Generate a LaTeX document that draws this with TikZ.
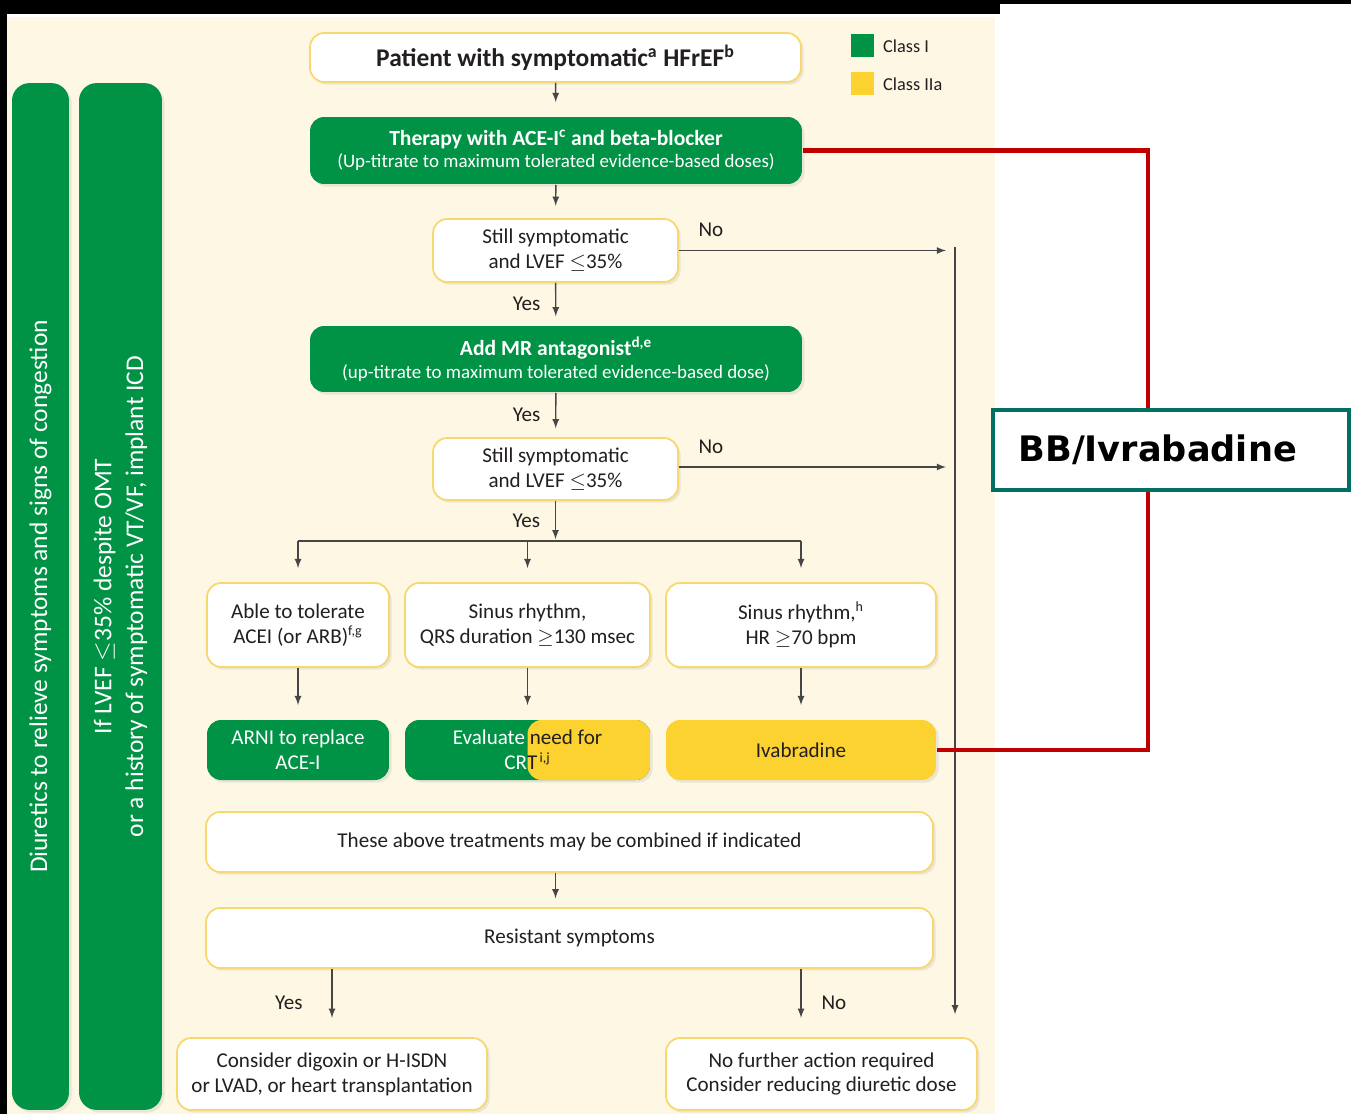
\documentclass[tikz,border=0pt]{standalone}
\usepackage{fontspec}
\setmainfont{Carlito}
\newfontfamily\bbfont{DejaVu Sans}
\usetikzlibrary{shadows}

\definecolor{cream}{RGB}{253,247,228}
\definecolor{classI}{RGB}{0,146,69}
\definecolor{classIIa}{RGB}{252,210,48}
\definecolor{boxline}{RGB}{247,216,110}
\definecolor{flowline}{RGB}{70,70,70}
\definecolor{txt}{RGB}{35,31,32}
\definecolor{redline}{RGB}{192,0,0}
\definecolor{bbframe}{RGB}{0,112,100}

\tikzset{
  box/.style={draw=boxline, line width=1pt, fill=white, rounded corners=8pt,
    align=center, text=txt, inner sep=0pt,
    font=\fontsize{12}{14.2}\selectfont,
    drop shadow={opacity=0.15, shadow xshift=1.5pt, shadow yshift=-1.5pt}},
  gbox/.style={box, draw=none, fill=classI, text=white},
  ybox/.style={box, draw=none, fill=classIIa},
  bar/.style={fill=classI, rounded corners=10pt, text=white, align=center,
    inner sep=0pt, font=\fontsize{14.5}{18}\selectfont,
    drop shadow={opacity=0.15, shadow xshift=1.5pt, shadow yshift=-1.5pt}},
  flow/.style={draw=flowline, line width=0.8pt},
  arr/.style={flow, -latex, shorten >=#1},
  arr/.default=5pt,
  lbl/.style={text=txt, font=\fontsize{12}{14}\selectfont},
  key/.style={minimum width=0.46cm, minimum height=0.46cm, inner sep=0pt},
  keytext/.style={text=txt, font=\fontsize{10.4}{12}\selectfont, anchor=west}
}

\begin{document}
\begin{tikzpicture}[x=0.02cm, y=-0.02cm]
  \useasboundingbox (0,0) rectangle (1351,1114);

  % frame and background
  \fill[black] (0,0) rectangle (1000,14);
  \fill[black] (0,0) rectangle (1351,4);
  \fill[black] (0,0) rectangle (7,1114);
  \fill[cream] (7,17) rectangle (995,1114);

  % side bars
  \node[bar, rotate=90, minimum width=20.54cm, minimum height=1.14cm] (diuretics) at (40.5,596.5)
    {Diuretics to relieve symptoms and signs of congestion};
  \node[bar, rotate=90, minimum width=20.54cm, minimum height=1.66cm] (icd) at (120.5,596.5)
    {If LVEF $\leq$35\% despite OMT\\or a history of symptomatic VT/VF, implant ICD};

  % legend
  \node[key, fill=classI] (keyI) at (862.5,45.5) {};
  \node[keytext] (keyItext) at (877,46) {Class I};
  \node[key, fill=classIIa] (keyIIa) at (862.5,83.5) {};
  \node[keytext] (keyIIatext) at (877,84) {Class IIa};

  % main column
  \node[box, minimum width=9.82cm, minimum height=0.98cm, font=\fontsize{14.5}{16}\selectfont\bfseries] (patient) at (555.5,57.5)
    {Patient with symptomatic\textsuperscript{a} HFrEF\textsuperscript{b}};
  \node[gbox, minimum width=9.84cm, minimum height=1.34cm, font=\fontsize{10.8}{13}\selectfont] (therapy) at (556,150.5)
    {{\fontsize{12.3}{13}\selectfont\bfseries Therapy with ACE-I\textsuperscript{c} and beta-blocker}\\(Up-titrate to maximum tolerated evidence-based doses)};
  \node[box, minimum width=4.9cm, minimum height=1.26cm] (still1) at (555.5,250.5)
    {Still symptomatic\\and LVEF $\leq$35\%};
  \node[gbox, minimum width=9.84cm, minimum height=1.32cm, font=\fontsize{10.8}{13}\selectfont] (mra) at (556,359)
    {{\fontsize{12.3}{13}\selectfont\bfseries Add MR antagonist\textsuperscript{d,e}}\\(up-titrate to maximum tolerated evidence-based dose)};
  \node[box, minimum width=4.9cm, minimum height=1.24cm] (still2) at (555.5,469)
    {Still symptomatic\\and LVEF $\leq$35\%};

  % three branches
  \node[box, minimum width=3.64cm, minimum height=1.68cm] (able) at (298,625)
    {Able to tolerate\\ACEI (or ARB)\textsuperscript{f,g}};
  \node[box, minimum width=4.9cm, minimum height=1.68cm] (sinusqrs) at (527.5,625)
    {Sinus rhythm,\\QRS duration $\geq$130 msec};
  \node[box, minimum width=5.4cm, minimum height=1.68cm] (sinushr) at (801,625)
    {Sinus rhythm,\textsuperscript{h}\\HR $\geq$70 bpm};
  \node[gbox, minimum width=3.64cm, minimum height=1.2cm] (arni) at (298,750)
    {ARNI to replace\\ACE-I};
  \node[gbox, minimum width=4.9cm, minimum height=1.2cm, text=txt,
    path picture={\fill[classIIa] (path picture bounding box.north) rectangle (path picture bounding box.south east);}] (crt) at (527.5,750)
    {{\color{white}Evaluate} need for\\{\color{white}CR}T\textsuperscript{\,i,j}};
  \node[ybox, minimum width=5.4cm, minimum height=1.2cm] (ivab) at (801,750) {Ivabradine};

  % bottom part
  \node[box, minimum width=14.54cm, minimum height=1.2cm] (combined) at (569.5,842)
    {These above treatments may be combined if indicated};
  \node[box, minimum width=14.54cm, minimum height=1.2cm] (resistant) at (569.5,938)
    {Resistant symptoms};
  \node[box, minimum width=6.2cm, minimum height=1.44cm] (digoxin) at (332,1074)
    {Consider digoxin or H-ISDN\\or LVAD, or heart transplantation};
  \node[box, minimum width=6.22cm, minimum height=1.44cm] (nofurther) at (821.5,1074)
    {No further action required\\Consider reducing diuretic dose};

  % connectors
  \coordinate (split) at (555.5,541);
  \coordinate (noend1) at (946,250.5);
  \coordinate (noend2) at (946,467);
  \coordinate (rtop) at (955,247);
  \draw[arr=8pt] (patient) -- (therapy);
  \draw[arr=7pt] (therapy) -- (still1);
  \draw[arr] (still1) -- node[lbl, left=5pt] {Yes} (mra);
  \draw[arr] (mra) -- node[lbl, left=5pt] {Yes} (still2);
  \draw[arr=1pt] (still2) -- node[lbl, left=5pt] {Yes} (split);
  \draw[arr=0pt] (still1.east) -- node[lbl, pos=0.12, above=4pt] {No} (noend1);
  \draw[arr=0pt] (still2.east |- noend2) -- node[lbl, pos=0.12, above=4pt] {No} (noend2);
  \draw[arr=13pt] (rtop) -- (rtop |- nofurther.north);
  \draw[flow] (able |- split) -- (sinushr |- split);
  \draw[arr=8pt] (able |- split) -- (able);
  \draw[arr=8pt] (sinusqrs |- split) -- (sinusqrs);
  \draw[arr=8pt] (sinushr |- split) -- (sinushr);
  \draw[arr=8pt] (able) -- (arni);
  \draw[arr=8pt] (sinusqrs) -- (crt);
  \draw[arr=8pt] (sinushr) -- (ivab);
  \draw[arr=5pt] (combined.south -| patient) -- (resistant.north -| patient);
  \draw[arr=11pt] (resistant.south -| digoxin) -- node[lbl, left=13pt] {Yes} (digoxin);
  \draw[arr=11pt] (resistant.south -| sinushr) -- node[lbl, right=8pt] {No} (sinushr |- nofurther.north);

  % red link and note
  \coordinate (redx) at (1148,0);
  \draw[redline, line width=2.8pt] (therapy.east) -| (redx |- ivab.east) -- (ivab.east);
  \node[draw=bbframe, line width=2.3pt, fill=white, minimum width=7.12cm, minimum height=1.6cm,
    text width=6.1cm, inner xsep=0.5cm, align=left, font=\bbfont\fontsize{20}{24}\selectfont\bfseries] (bb) at (1171,450)
    {BB/Ivrabadine};
\end{tikzpicture}
\end{document}
